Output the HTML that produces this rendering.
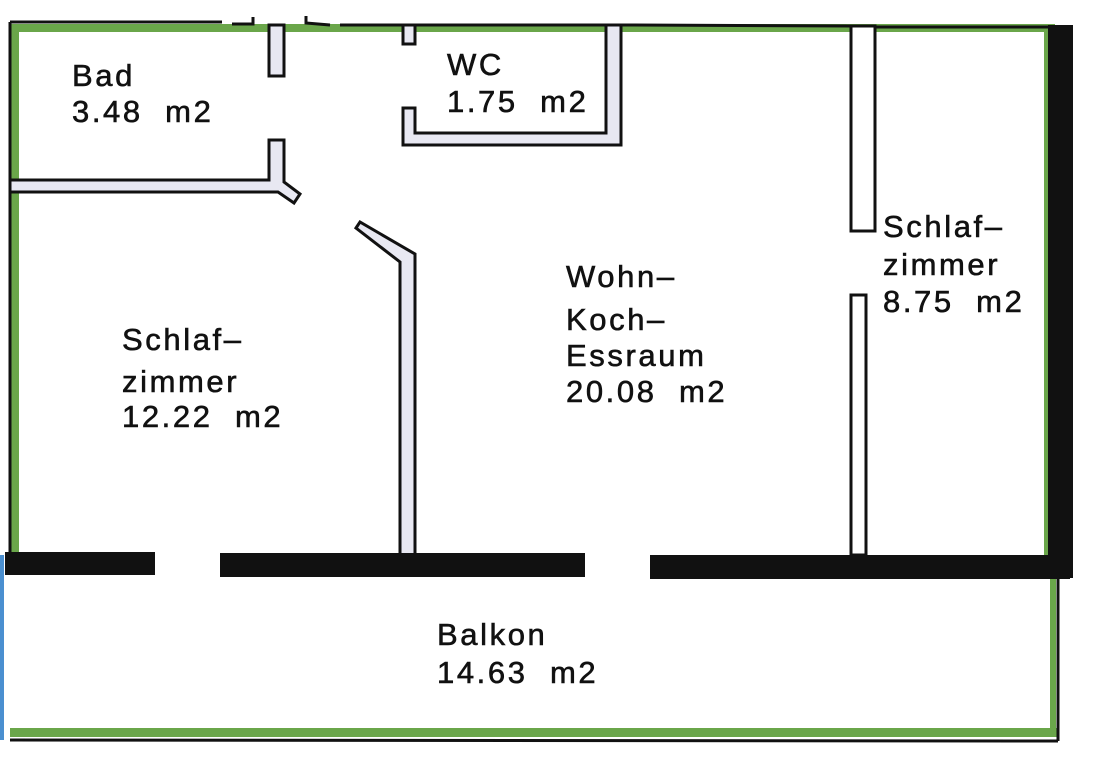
<!DOCTYPE html>
<html><head><meta charset="utf-8"><style>
html,body{margin:0;padding:0;background:#fff;width:1094px;height:768px;overflow:hidden}
text{font-family:"Liberation Sans","DejaVu Sans",sans-serif;font-size:31px;fill:#111;letter-spacing:2.6px;white-space:pre;stroke:#111;stroke-width:0.6}
</style></head><body>
<svg width="1094" height="768" viewBox="0 0 1094 768" xmlns="http://www.w3.org/2000/svg" xml:space="preserve">
<g fill="#6aa64a">
<rect x="10" y="24" width="1045" height="8"/>
<rect x="10" y="24" width="9" height="530"/>
<rect x="1044" y="26" width="8" height="530"/>
<rect x="10" y="728" width="1048" height="9"/>
<rect x="1050" y="578" width="6" height="155"/>
</g>
<g stroke="#111" stroke-width="3" fill="none">
<line x1="10" y1="22" x2="222" y2="22"/>
<line x1="10" y1="22" x2="10" y2="182"/>
<line x1="10" y1="192" x2="10" y2="555"/>
<polyline points="232,24 253,24 253,17"/>
<polyline points="306,16 306,23 330,25"/>
<line x1="340" y1="25" x2="605" y2="25"/>
<line x1="622" y1="25" x2="850" y2="26"/>
<line x1="875" y1="27" x2="1048" y2="27"/>
<line x1="10" y1="740" x2="1058" y2="741"/>
<line x1="1058" y1="578" x2="1058" y2="741"/>
</g>
<g fill="#e8e8f2" stroke="#111" stroke-width="3">
<rect x="269" y="25" width="15" height="51"/>
<path d="M10 180 L269 180 L269 140 L284 140 L284 182 L300 194 L294 203 L278 192 L10 192 Z"/>
<rect x="403" y="25" width="12" height="19"/>
<path d="M403 108 L415 108 L415 133 L606 133 L606 25 L621 25 L621 145 L403 145 Z"/>
<path d="M356 228 L360 222 L415 254 L415 555 L400 555 L400 262 Z"/>
<rect x="851" y="26" width="24" height="205" fill="#fff"/>
<rect x="851" y="295" width="15" height="260" fill="#fff"/>
</g>
<g fill="#111">
<rect x="1048" y="25" width="25" height="553"/>
<rect x="5" y="552" width="150" height="23"/>
<rect x="220" y="553" width="365" height="24"/>
<rect x="650" y="555" width="420" height="24"/>
</g>
<rect x="0" y="555" width="4" height="185" fill="#4a8fd0"/>
<text x="72" y="86">Bad</text>
<text x="72" y="122">3.48  m2</text>
<text x="447" y="75">WC</text>
<text x="447" y="112">1.75  m2</text>
<text x="122" y="350">Schlaf–</text>
<text x="122" y="392">zimmer</text>
<text x="122" y="427">12.22  m2</text>
<text x="566" y="287">Wohn–</text>
<text x="566" y="330">Koch–</text>
<text x="566" y="366">Essraum</text>
<text x="566" y="402">20.08  m2</text>
<text x="883" y="237">Schlaf–</text>
<text x="883" y="275">zimmer</text>
<text x="883" y="312">8.75  m2</text>
<text x="437" y="645">Balkon</text>
<text x="437" y="683">14.63  m2</text>
</svg>
</body></html>
